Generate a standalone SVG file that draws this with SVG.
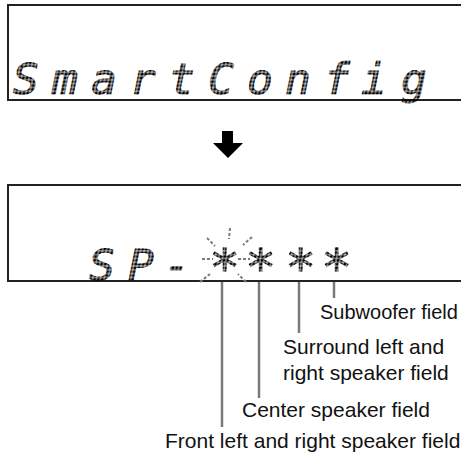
<svg xmlns="http://www.w3.org/2000/svg" width="461" height="458" viewBox="0 0 461 458">
<defs>
<pattern id="dots" width="3.8" height="3.8" patternUnits="userSpaceOnUse" patternTransform="skewX(-12)">
<rect x="0.4" y="0.4" width="3" height="3" fill="#000"/>
</pattern>
</defs>
<style>
.box{fill:none;stroke:#222;stroke-width:2}
.lcd{font-family:"DejaVu Sans Mono",monospace;font-style:italic;font-size:43px;fill:url(#dots);stroke:url(#dots);stroke-width:0.9}
.star{font-size:52px}
.lead{stroke:#7a7a7a;stroke-width:2.5;fill:none}
.spark{stroke:#7a7a7a;stroke-width:2;fill:none;stroke-dasharray:3 2}
.lbl{font-family:"Liberation Sans",Arial,sans-serif;font-size:21px;fill:#111}
</style>
<rect width="461" height="458" fill="#fff"/>
<g id="display1">
<path class="box" d="M470 5 H8 V100 H470"/>
<text class="lcd" x="13 52 91 130 169 208 247 285 324 361 401" y="94">SmartConfig</text>
</g>
<g id="arrow">
<polygon points="222,131 233,131 233,143 243,143 228,158 213,143 222,143" fill="#000"/>
</g>
<g id="display2">
<path class="box" d="M470 185 H8 V281 H470"/>
<text class="lcd" x="89 128 164" y="280">SP-</text>
<text class="lcd star" x="209 245 285 321" y="286">****</text>
</g>
<g id="sparks">
<line class="spark" x1="230" y1="228" x2="229" y2="239"/>
<line class="spark" x1="207" y1="238" x2="215" y2="246"/>
<line class="spark" x1="252" y1="237" x2="243" y2="245"/>
<line class="spark" x1="200" y1="282" x2="210" y2="274"/>
<line class="spark" x1="246" y1="282" x2="238" y2="274"/>
<line class="spark" x1="202" y1="259" x2="213" y2="259"/>
<line class="spark" x1="238" y1="259" x2="250" y2="259"/>
</g>
<g id="connectors">
<line class="lead" x1="222" y1="282" x2="222" y2="427"/>
<line class="lead" x1="259" y1="282" x2="259" y2="398"/>
<line class="lead" x1="299" y1="282" x2="299" y2="333"/>
<line class="lead" x1="334" y1="282" x2="334" y2="298"/>
</g>
<g id="labels">
<text class="lbl" x="320" y="319" style="font-size:20px">Subwoofer field</text>
<text class="lbl" x="283" y="354">Surround left and</text>
<text class="lbl" x="283" y="380">right speaker field</text>
<text class="lbl" x="242" y="417">Center speaker field</text>
<text class="lbl" x="165" y="448">Front left and right speaker field</text>
</g>
</svg>
